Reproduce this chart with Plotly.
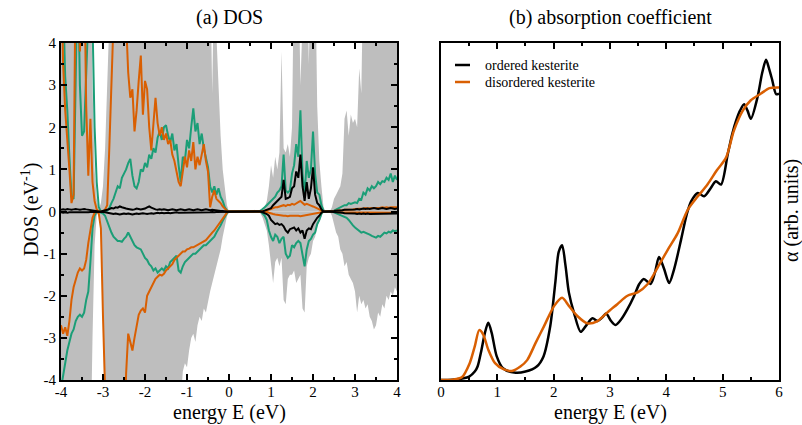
import plotly.graph_objects as go

# ---------------- DATA ----------------
# energy grid for DOS panel (eV), step 0.05 from -4 to 4
E_dos = [round(-4 + 0.05 * i, 2) for i in range(161)]

# total DOS (gray), spin up / spin down
tot_up = [
    6, 6, 6, 6, 6, 6, 6, 6, 6, 6, 6, 6, 6, 6, 6, 3.0, 1.0, 0.3, 0.05, 0.2,
    0.6, 1.5, 3.0, 6, 6, 6, 6, 6, 6, 6, 6, 6, 6, 6, 6, 6, 6, 6, 6, 6,
    6, 6, 6, 6, 6, 6, 6, 6, 6, 6, 6, 6, 6, 6, 6, 6, 6, 6, 6, 6,
    6, 6, 6, 6, 6, 6, 6, 6, 6, 6, 6, 6, 2.8, 6, 4.2, 2.9, 1.8, 1.0, 0.5, 0.15,
    0, 0, 0, 0, 0, 0, 0, 0, 0, 0, 0, 0.02, 0.04, 0, 0.02, 0.03, 0.06, 0.1, 0.25, 0.6,
    1.1, 0.8, 1.3, 1.0, 1.4, 3.8, 1.5, 1.4, 1.6, 1.3, 2.0, 6, 6, 6, 3.0, 6, 6, 6, 3.5, 6,
    6, 6, 2.5, 1.2, 0.6, 0.1, 0, 0, 0, 0.1, 0.3, 0.4, 0.5, 0.6, 0.9, 2.2, 2.4, 1.8, 2.3, 2.1,
    2.2, 2.0, 3.4, 2.8, 6, 6, 6, 6, 6, 6, 6, 6, 6, 6, 6, 6, 6, 6, 6, 6,
    6]
tot_dn = [
    -6, -6, -6, -6, -6, -6, -6, -6, -6, -6, -6, -6, -6, -6, -6, -3.0, -0.8, -0.1, 0, -0.3,
    -2.0, -6, -6, -6, -6, -6, -6, -6, -6, -6, -6, -6, -6, -6, -6, -6, -6, -6, -6, -6,
    -6, -6, -6, -6, -6, -6, -6, -6, -6, -6, -6, -6, -6, -6, -6, -6, -6, -4.5, -3.8, -3.6,
    -3.7, -3.3, -3.0, -2.9, -3.1, -2.7, -2.5, -2.6, -2.3, -2.4, -2.1, -1.9, -1.7, -1.5, -1.3, -1.1, -0.9, -0.6, -0.35, -0.12,
    0, 0, 0, 0, 0, 0, 0, 0, 0, 0, 0, 0, 0, 0, 0, -0.05, -0.15, -0.3, -0.45, -0.8,
    -1.3, -1.7, -1.2, -1.1, -1.3, -1.1, -2.1, -2.2, -1.6, -1.5, -1.5, -1.4, -1.7, -1.6, -1.5, -2.3, -2.4, -1.3, -1.1, -1.0,
    -0.7, -0.6, -0.35, -0.25, -0.1, 0, 0, 0, 0, -0.1, -0.3, -0.5, -0.6, -0.9, -1.0, -1.3, -1.2, -1.5, -1.6, -1.7,
    -1.9, -2.4, -2.0, -2.2, -2.1, -2.3, -2.2, -2.5, -2.6, -2.8, -2.7, -2.4, -2.5, -2.2, -2.3, -2.0, -2.1, -1.9, -2.0, -1.8,
    -1.9]

# partial DOS, green
green_up = [
    6, 5, 3.2, 2.4, 1.3, 0.35, 0.3, 2.8, 6, 3.0, 1.8, 1.9, 3.6, 6, 6, 4.5, 2.0, 0.7, 0.1, 0.0,
    0.0, 0.0, 0.02, 0.08, 0.2, 0.3, 0.45, 0.6, 0.55, 0.8, 0.9, 1.0, 1.15, 1.25, 0.85, 0.6, 0.55, 0.7, 1.0, 0.95,
    1.15, 1.05, 1.35, 1.25, 1.5, 1.4, 1.75, 1.9, 1.7, 2.0, 2.05, 1.8, 1.65, 1.85, 1.45, 1.6, 1.1, 0.7, 1.3, 1.2,
    1.7, 1.5, 2.0, 2.45, 1.9, 2.1, 1.6, 1.85, 1.5, 1.3, 1.05, 0.6, 0.45, 0.6, 0.4, 0.55, 0.35, 0.25, 0.1, 0.03,
    0, 0, 0, 0, 0, 0, 0, 0, 0, 0, 0, 0, 0, 0, 0, 0.02, 0.05, 0.1, 0.15, 0.2,
    0.25, 0.3, 0.35, 0.45, 0.5, 0.6, 1.35, 0.5, 0.45, 0.5, 0.9, 1.1, 1.6, 1.3, 2.4, 0.9, 0.4, 1.2, 0.8, 1.0,
    1.9, 0.9, 0.45, 0.4, 0.15, 0.02, 0, 0, 0, 0, 0.02, 0.05, 0.08, 0.1, 0.12, 0.15, 0.15, 0.2, 0.18, 0.2,
    0.22, 0.2, 0.3, 0.28, 0.45, 0.4, 0.55, 0.5, 0.6, 0.55, 0.6, 0.7, 0.65, 0.72, 0.7, 0.8, 0.75, 0.9, 0.7, 0.85,
    0.75]
green_dn = [
    -4.2, -3.9, -3.5, -3.3, -3.1, -2.9, -2.8, -2.6, -2.5, -2.45, -2.5, -2.4, -2.1, -1.9, -1.2, -0.4, -0.1, 0, 0, -0.02,
    -0.05, -0.1, -0.25, -0.35, -0.5, -0.6, -0.65, -0.7, -0.7, -0.72, -0.65, -0.6, -0.5, -0.6, -0.7, -0.8, -0.85, -0.88, -0.9, -1.0,
    -1.1, -1.15, -1.25, -1.3, -1.4, -1.35, -1.45, -1.4, -1.35, -1.4, -1.3, -1.35, -1.2, -1.15, -1.1, -1.05, -1.4, -1.45, -1.3, -1.2,
    -1.15, -1.1, -1.05, -1.0, -1.0, -0.95, -0.9, -0.85, -0.8, -0.8, -0.75, -0.7, -0.65, -0.6, -0.5, -0.42, -0.33, -0.22, -0.12, -0.04,
    0, 0, 0, 0, 0, 0, 0, 0, 0, 0, 0, 0, 0, 0, 0, 0, -0.05, -0.1, -0.2, -0.45,
    -0.6, -0.7, -0.55, -0.6, -0.75, -0.65, -0.6, -1.0, -1.1, -1.05, -0.8, -0.85, -0.75, -0.7, -0.75, -1.0, -1.3, -0.9, -0.7, -0.65,
    -0.55, -0.5, -0.3, -0.2, -0.05, 0, 0, 0, 0, 0, -0.02, -0.04, -0.06, -0.08, -0.1, -0.12, -0.15, -0.2, -0.28, -0.33,
    -0.38, -0.42, -0.45, -0.5, -0.48, -0.5, -0.52, -0.55, -0.58, -0.6, -0.62, -0.58, -0.6, -0.55, -0.5, -0.52, -0.48, -0.5, -0.45, -0.47,
    -0.45]

# partial DOS, orange
orange_up = [
    6, 3.5, 2.4, 1.8, 1.0, 0.2, 0.4, 6, 6, 3.8, 6, 6, 2.5, 0.85, 2.2, 0.7, 0.25, 0.05, 0, 0,
    0, 0.05, 0.15, 1.5, 3.5, 6, 6, 6, 6, 6, 6, 4.5, 3.3, 2.7, 2.9, 1.9, 2.4, 3.1, 3.7, 2.3,
    3.1, 2.9, 2.0, 1.45, 2.1, 2.7, 2.1, 1.8, 2.0, 1.7, 1.85, 1.6, 1.7, 1.35, 1.2, 0.9, 0.7, 0.6, 1.0, 1.3,
    1.05, 1.45, 1.2, 1.65, 1.0, 1.3, 1.1, 1.4, 1.6, 1.2, 0.95, 0.1, 0.35, 0.5, 0.3, 0.25, 0.2, 0.12, 0.06, 0.02,
    0, 0, 0, 0, 0, 0, 0, 0, 0, 0, 0, 0, 0, 0, 0, 0, 0.01, 0.02, 0.03, 0.05,
    0.06, 0.08, 0.1, 0.1, 0.12, 0.14, 0.15, 0.13, 0.16, 0.15, 0.18, 0.16, 0.2, 0.22, 0.25, 0.2, 0.16, 0.18, 0.15, 0.14,
    0.12, 0.1, 0.08, 0.05, 0.02, 0, 0, 0, 0, 0, 0.01, 0.02, 0.02, 0.03, 0.03, 0.04, 0.04, 0.05, 0.05, 0.05,
    0.06, 0.06, 0.07, 0.06, 0.07, 0.08, 0.07, 0.08, 0.08, 0.09, 0.08, 0.09, 0.09, 0.1, 0.09, 0.1, 0.09, 0.1, 0.1, 0.09,
    0.1]
orange_dn = [
    -2.7, -2.9, -2.75, -2.95, -2.6, -2.1, -1.8, -1.6, -1.45, -1.35, -1.4, -1.35, -1.15, -0.75, -0.4, -0.15, -0.03, 0, -0.05, -0.4,
    -2.5, -6, -6, -6, -6, -6, -6, -6, -6, -6, -6, -3.85, -2.9, -3.1, -3.3, -3.0, -2.7, -2.45, -2.35, -2.3,
    -2.4, -2.0, -1.9, -1.8, -1.7, -1.6, -1.55, -1.5, -1.52, -1.48, -1.4, -1.35, -1.3, -1.25, -1.15, -1.1, -1.05, -1.0, -0.95, -0.95,
    -0.9, -0.88, -0.85, -0.85, -0.82, -0.8, -0.78, -0.75, -0.7, -0.68, -0.62, -0.55, -0.5, -0.45, -0.38, -0.3, -0.22, -0.15, -0.08, -0.03,
    0, 0, 0, 0, 0, 0, 0, 0, 0, 0, 0, 0, 0, 0, 0, 0, 0, 0, -0.01, -0.03,
    -0.05, -0.06, -0.07, -0.08, -0.08, -0.09, -0.1, -0.1, -0.11, -0.1, -0.1, -0.09, -0.1, -0.1, -0.11, -0.1, -0.09, -0.08, -0.07, -0.06,
    -0.05, -0.04, -0.03, -0.02, -0.01, 0, 0, 0, 0, 0, -0.01, -0.01, -0.02, -0.02, -0.02, -0.02, -0.03, -0.03, -0.03, -0.03,
    -0.03, -0.03, -0.03, -0.03, -0.03, -0.03, -0.03, -0.03, -0.03, -0.03, -0.03, -0.03, -0.03, -0.03, -0.03, -0.03, -0.03, -0.03, -0.03, -0.03,
    -0.03]

# partial DOS, black
black_up = [
    0.04, 0.05, 0.04, 0.06, 0.05, 0.04, 0.05, 0.06, 0.05, 0.04, 0.05, 0.06, 0.05, 0.04, 0.03, 0.02, 0.01, 0, 0, 0,
    0.01, 0.02, 0.04, 0.06, 0.08, 0.07, 0.1, 0.09, 0.12, 0.1, 0.08, 0.07, 0.06, 0.05, 0.04, 0.05, 0.07, 0.06, 0.05, 0.06,
    0.07, 0.1, 0.12, 0.09, 0.06, 0.05, 0.04, 0.05, 0.04, 0.05, 0.04, 0.03, 0.04, 0.05, 0.04, 0.03, 0.04, 0.05, 0.04, 0.03,
    0.04, 0.05, 0.04, 0.03, 0.04, 0.05, 0.04, 0.03, 0.04, 0.05, 0.04, 0.03, 0.04, 0.03, 0.02, 0.02, 0.01, 0.01, 0, 0,
    0, 0, 0, 0, 0, 0, 0, 0, 0, 0, 0, 0, 0, 0, 0, 0, 0, 0.02, 0.04, 0.06,
    0.08, 0.15, 0.2, 0.25, 0.3, 0.35, 0.75, 0.3, 0.32, 0.35, 0.55, 0.6, 0.95, 0.8, 1.35, 0.6, 0.25, 0.7, 0.3, 0.55,
    1.05, 0.4, 0.2, 0.15, 0.05, 0, 0, 0, 0, 0, 0.01, 0.02, 0.02, 0.03, 0.03, 0.04, 0.04, 0.05, 0.05, 0.05,
    0.05, 0.06, 0.05, 0.06, 0.07, 0.06, 0.07, 0.06, 0.07, 0.08, 0.07, 0.06, 0.07, 0.08, 0.07, 0.06, 0.07, 0.08, 0.07, 0.06,
    0.07]
black_dn = [
    -0.02, -0.03, -0.02, -0.03, -0.02, -0.02, -0.03, -0.02, -0.03, -0.02, -0.02, -0.03, -0.02, -0.02, -0.01, -0.01, 0, 0, 0, 0,
    -0.01, -0.02, -0.03, -0.04, -0.05, -0.06, -0.05, -0.06, -0.07, -0.06, -0.05, -0.06, -0.05, -0.06, -0.07, -0.06, -0.05, -0.06, -0.05, -0.04,
    -0.05, -0.06, -0.05, -0.04, -0.05, -0.04, -0.03, -0.04, -0.03, -0.04, -0.03, -0.03, -0.04, -0.03, -0.03, -0.02, -0.03, -0.03, -0.02, -0.03,
    -0.02, -0.03, -0.02, -0.02, -0.03, -0.02, -0.02, -0.02, -0.03, -0.02, -0.02, -0.02, -0.01, -0.02, -0.01, -0.01, -0.01, 0, 0, 0,
    0, 0, 0, 0, 0, 0, 0, 0, 0, 0, 0, 0, 0, 0, 0, 0, -0.02, -0.04, -0.06, -0.1,
    -0.2, -0.25, -0.3, -0.28, -0.32, -0.3, -0.35, -0.45, -0.5, -0.42, -0.4, -0.38, -0.45, -0.4, -0.5, -0.45, -0.65, -0.45, -0.4, -0.42,
    -0.3, -0.22, -0.15, -0.1, -0.03, 0, 0, 0, 0, 0, -0.01, -0.02, -0.02, -0.03, -0.03, -0.04, -0.04, -0.05, -0.05, -0.05,
    -0.05, -0.06, -0.05, -0.06, -0.05, -0.06, -0.05, -0.06, -0.06, -0.05, -0.06, -0.05, -0.06, -0.05, -0.06, -0.05, -0.06, -0.05, -0.06, -0.05,
    -0.05]

# absorption coefficient (arb. units)
E_ord = [0, 0.2, 0.4, 0.5, 0.6, 0.65, 0.72, 0.78, 0.84, 0.9, 0.99, 1.1, 1.3, 1.5, 1.7, 1.82, 1.94, 2.03, 2.09,
         2.15, 2.21, 2.27, 2.36, 2.48, 2.57, 2.69, 2.78, 2.86, 2.93, 3.02, 3.1, 3.2, 3.31, 3.43, 3.52, 3.6, 3.72,
         3.8, 3.87, 3.96, 4.05, 4.14, 4.26, 4.36, 4.44, 4.56, 4.67, 4.79, 4.88, 4.97, 5.09, 5.17, 5.24, 5.31, 5.38,
         5.44, 5.5, 5.62, 5.7, 5.77, 5.83, 5.88, 5.95, 6.0]
abs_ord = [0, 0.001, 0.005, 0.01, 0.025, 0.04, 0.09, 0.14, 0.17, 0.14, 0.07, 0.035, 0.022, 0.025, 0.04, 0.07,
           0.16, 0.29, 0.38, 0.40, 0.34, 0.26, 0.2, 0.143, 0.16, 0.183, 0.175, 0.185, 0.197, 0.175, 0.163, 0.18,
           0.21, 0.25, 0.285, 0.30, 0.285, 0.32, 0.365, 0.33, 0.288, 0.33, 0.415, 0.49, 0.53, 0.555, 0.545, 0.57,
           0.59, 0.58, 0.67, 0.73, 0.77, 0.8, 0.818, 0.8, 0.775, 0.84, 0.91, 0.95, 0.92, 0.89, 0.848, 0.85]
E_dis = [0, 0.2, 0.37, 0.51, 0.6, 0.68, 0.75, 0.84, 0.96, 1.11, 1.26, 1.41, 1.53, 1.68, 1.83, 2.01, 2.15, 2.27,
         2.42, 2.6, 2.78, 2.95, 3.13, 3.31, 3.49, 3.67, 3.85, 4.02, 4.2, 4.38, 4.56, 4.73, 4.9, 5.06, 5.2, 5.36,
         5.5, 5.68, 5.83, 6.0]
abs_dis = [0, 0.001, 0.008, 0.05, 0.1, 0.148, 0.135, 0.09, 0.05, 0.032, 0.027, 0.04, 0.059, 0.11, 0.16, 0.22,
           0.244, 0.22, 0.19, 0.168, 0.175, 0.2, 0.225, 0.25, 0.26, 0.285, 0.335, 0.385, 0.435, 0.505, 0.545, 0.58,
           0.623, 0.66, 0.74, 0.8, 0.83, 0.85, 0.866, 0.868]

dos_ticks = [-4, -3, -2, -1, 0, 1, 2, 3, 4]
dos_ticktext = ["-4", "-3", "-2", "-1", "0", "1", "2", "3", "4"]
abs_ticks = [0, 1, 2, 3, 4, 5, 6]
abs_ticktext = ["0", "1", "2", "3", "4", "5", "6"]

# ---------------- STYLE ----------------
GRAY = "#bebebe"
GREEN = "#1b9e77"
ORANGE = "#d95f02"
FONT = "'Liberation Serif', 'Times New Roman', 'DejaVu Serif', serif"

fig = go.Figure()

# gray total DOS
for yv in (tot_up, tot_dn):
    fig.add_trace(go.Scatter(x=E_dos, y=yv, mode="lines", fill="tozeroy",
                             fillcolor=GRAY, line=dict(width=0, color=GRAY),
                             xaxis="x", yaxis="y", hoverinfo="skip"))
for yv, c in ((green_up, GREEN), (green_dn, GREEN), (orange_up, ORANGE),
              (orange_dn, ORANGE), (black_up, "black"), (black_dn, "black")):
    fig.add_trace(go.Scatter(x=E_dos, y=yv, mode="lines",
                             line=dict(width=2, color=c), xaxis="x", yaxis="y"))

fig.add_trace(go.Scatter(x=E_ord, y=abs_ord, mode="lines", name="ordered kesterite",
                         line=dict(width=2.5, color="black", shape="spline", smoothing=0.8),
                         xaxis="x2", yaxis="y2"))
fig.add_trace(go.Scatter(x=E_dis, y=abs_dis, mode="lines", name="disordered kesterite",
                         line=dict(width=2.5, color=ORANGE, shape="spline", smoothing=0.8),
                         xaxis="x2", yaxis="y2"))

axis_common = dict(showline=True, linecolor="black", linewidth=2, mirror="ticks",
                   ticks="inside", ticklen=6, tickwidth=1.5, tickcolor="black",
                   showgrid=False, zeroline=False, tickmode="array",
                   tickfont=dict(family=FONT, size=15, color="black"))
minor_common = dict(tickmode="linear", tick0=0, dtick=0.5, ticks="inside",
                    ticklen=3, tickcolor="black", tickwidth=1.5, showgrid=False)

fig.update_layout(
    width=802, height=425,
    margin=dict(l=61, r=23, t=43, b=45),
    paper_bgcolor="white", plot_bgcolor="white",
    showlegend=False,
    font=dict(family=FONT, color="black"),
    xaxis=dict(domain=[0, 0.468], range=[-4, 4], tickvals=dos_ticks,
               ticktext=dos_ticktext, anchor="y", ticklabelstandoff=-3,
               minor=minor_common, **axis_common),
    yaxis=dict(range=[-4, 4], tickvals=dos_ticks, ticktext=dos_ticktext,
               anchor="x", minor=minor_common, **axis_common),
    xaxis2=dict(domain=[0.5292, 1], range=[0, 6], tickvals=abs_ticks, ticktext=abs_ticktext,
                anchor="y2", ticklabelstandoff=-3, minor=minor_common, **axis_common),
    yaxis2=dict(range=[0, 1], anchor="x2", showline=True, linecolor="black", linewidth=2,
                mirror=True, ticks="", showticklabels=False, showgrid=False, zeroline=False),
)

def px_x(px):
    return (px - 61) / 718

def px_y(py):
    return (380 - py) / 337

ann_font = dict(family=FONT, size=20, color="black")
anns = [
    dict(text="(a) DOS", x=px_x(229), y=px_y(18)),
    dict(text="(b) absorption coefficient", x=px_x(610), y=px_y(17)),
    dict(text="energy E (eV)", x=px_x(229), y=px_y(412)),
    dict(text="energy E (eV)", x=px_x(610), y=px_y(412)),
    dict(text="DOS (eV<sup>-1</sup>)", x=px_x(30), y=px_y(210), textangle=-90),
    dict(text="α (arb. units)", x=px_x(791), y=px_y(211), textangle=-90),
]
for a in anns:
    fig.add_annotation(xref="paper", yref="paper", showarrow=False,
                       xanchor="center", yanchor="middle", font=ann_font, **a)

# legend (manual)
leg = [("ordered kesterite", "black", 65), ("disordered kesterite", ORANGE, 82)]
for label, col, py in leg:
    fig.add_shape(type="line", xref="paper", yref="paper",
                  x0=px_x(455), x1=px_x(470), y0=px_y(py), y1=px_y(py),
                  line=dict(color=col, width=2.5))
    fig.add_annotation(xref="paper", yref="paper", showarrow=False,
                       x=px_x(483), y=px_y(py), xanchor="left", yanchor="middle",
                       text=label, font=dict(family=FONT, size=14, color="black"))

fig.write_html("out.html")
